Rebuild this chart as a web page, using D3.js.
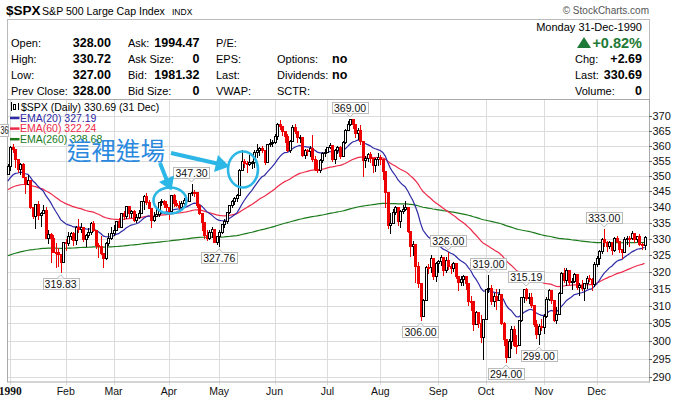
<!DOCTYPE html>
<html>
<head>
<meta charset="utf-8">
<script src="https://cdn.jsdelivr.net/npm/d3@7"></script>
<style>
  body { margin: 0; background: #fff; }
  svg { display: block; font-family: "Liberation Sans", Arial, sans-serif; }
</style>
</head>
<body>
<div id="chart"></div>
<script>
// daily candles, one array per month: [day, open, high, low, close]
const dec89 = [[29, 350.67, 353.90, 350.50, 353.40]];
const jan = [
  [2, 353.40, 359.90, 351.98, 359.69], [3, 359.69, 360.59, 357.89, 358.76], [4, 358.76, 358.76, 352.89, 355.67],
  [5, 355.67, 355.67, 351.35, 352.20], [8, 352.20, 354.24, 350.54, 353.79], [9, 353.79, 354.17, 349.61, 349.62],
  [10, 349.62, 349.62, 344.32, 347.31], [11, 347.31, 350.14, 347.31, 348.53], [12, 348.53, 348.53, 339.49, 339.93],
  [15, 339.93, 339.94, 336.57, 337.00], [16, 337.00, 340.75, 333.37, 340.75], [17, 340.75, 342.01, 336.26, 337.40],
  [18, 337.40, 338.38, 333.98, 338.19], [19, 338.19, 340.48, 338.19, 339.15], [22, 339.15, 339.96, 330.28, 330.38],
  [23, 330.38, 332.76, 328.67, 331.61], [24, 331.61, 331.71, 322.85, 330.26], [25, 330.26, 331.06, 325.80, 326.08],
  [26, 326.08, 328.58, 321.44, 325.80], [29, 325.80, 327.31, 321.79, 325.20], [30, 325.20, 325.20, 319.83, 322.98],
  [31, 322.98, 329.08, 322.98, 329.08]
];
const feb = [
  [1, 329.08, 329.90, 326.60, 328.79], [2, 328.79, 332.10, 328.10, 330.92], [5, 330.92, 332.00, 330.00, 331.85],
  [6, 331.85, 332.20, 328.00, 329.66], [7, 329.66, 334.00, 328.30, 333.75], [8, 333.75, 336.10, 332.00, 332.96],
  [9, 332.96, 335.00, 332.10, 333.62], [12, 333.62, 333.62, 329.30, 330.08], [13, 330.08, 331.60, 327.90, 331.02],
  [14, 331.02, 333.20, 330.40, 332.01], [15, 332.01, 335.20, 331.40, 334.89], [16, 334.89, 335.60, 332.40, 332.72],
  [20, 332.72, 332.72, 327.10, 327.99], [21, 327.99, 328.60, 324.50, 327.67], [22, 327.67, 331.00, 325.30, 325.70],
  [23, 325.70, 325.70, 321.40, 324.15], [26, 324.15, 328.90, 323.90, 328.67], [27, 328.67, 331.90, 328.20, 330.26],
  [28, 330.26, 333.60, 329.90, 331.89]
];
const mar = [
  [1, 331.89, 334.40, 331.10, 332.74], [2, 332.74, 335.54, 332.70, 335.54], [5, 335.54, 336.40, 333.50, 333.74],
  [6, 333.74, 337.93, 333.60, 337.93], [7, 337.93, 338.80, 336.30, 336.95], [8, 336.95, 340.30, 336.50, 340.27],
  [9, 340.27, 340.30, 336.80, 337.93], [12, 337.93, 339.10, 336.80, 338.67], [13, 338.67, 338.90, 335.40, 336.00],
  [14, 336.00, 337.60, 335.20, 336.87], [15, 336.87, 338.90, 336.50, 338.07], [16, 338.07, 342.00, 337.90, 341.91],
  [19, 341.91, 343.80, 339.20, 343.53], [20, 343.53, 344.50, 340.80, 341.57], [21, 341.57, 342.10, 339.50, 339.74],
  [22, 339.74, 339.74, 333.60, 335.69], [23, 335.69, 338.30, 335.60, 337.22], [26, 337.22, 339.20, 337.10, 337.63],
  [27, 337.63, 341.50, 337.00, 341.50], [28, 341.50, 342.60, 340.60, 342.00], [29, 342.00, 342.10, 339.80, 340.79],
  [30, 340.79, 341.80, 339.00, 339.94]
];
const apr = [
  [2, 339.94, 339.94, 336.30, 338.70], [3, 338.70, 343.80, 338.70, 343.64], [4, 343.64, 344.10, 340.40, 341.09],
  [5, 341.09, 342.10, 340.30, 340.73], [6, 340.73, 341.80, 338.90, 340.08], [9, 340.08, 341.90, 339.20, 341.37],
  [10, 341.37, 342.80, 340.60, 342.07], [11, 342.07, 343.00, 341.10, 341.92], [12, 341.92, 344.50, 341.90, 344.34],
  [16, 344.34, 347.30, 343.90, 344.74], [17, 344.74, 345.30, 343.50, 344.68], [18, 344.68, 344.70, 339.90, 340.72],
  [19, 340.72, 340.90, 337.60, 338.09], [20, 338.09, 338.10, 332.70, 335.12], [23, 335.12, 335.12, 330.10, 331.05],
  [24, 331.05, 332.60, 329.50, 330.36], [25, 330.36, 332.60, 329.80, 332.03], [26, 332.03, 333.80, 330.70, 332.92],
  [27, 332.92, 333.00, 328.90, 329.11], [30, 329.11, 331.00, 328.40, 330.80]
];
const may = [
  [1, 330.80, 332.60, 327.76, 332.25], [2, 332.25, 334.60, 331.90, 334.48], [3, 334.48, 336.10, 333.80, 335.57],
  [4, 335.57, 338.50, 334.90, 338.39], [7, 338.39, 340.60, 338.00, 340.53], [8, 340.53, 342.20, 339.90, 342.01],
  [9, 342.01, 343.10, 340.90, 342.86], [10, 342.86, 344.00, 342.00, 343.82], [11, 343.82, 352.30, 343.80, 352.00],
  [14, 352.00, 358.40, 352.00, 354.75], [15, 354.75, 355.60, 352.90, 354.28], [16, 354.28, 355.00, 351.30, 354.00],
  [17, 354.00, 356.90, 353.60, 354.47], [18, 354.47, 355.00, 352.60, 354.64], [21, 354.64, 358.50, 353.00, 358.00],
  [22, 358.00, 360.50, 356.10, 358.43], [23, 358.43, 359.70, 356.90, 359.29], [24, 359.29, 360.00, 357.90, 358.41],
  [25, 358.41, 358.41, 353.80, 354.58], [29, 354.58, 360.70, 354.58, 360.65], [30, 360.65, 362.30, 360.00, 360.86],
  [31, 360.86, 361.80, 359.80, 361.23]
];
const jun = [
  [1, 361.23, 363.80, 360.90, 363.16], [4, 363.16, 367.80, 362.40, 367.40], [5, 367.40, 368.80, 365.80, 366.64],
  [6, 366.64, 366.64, 363.60, 364.96], [7, 364.96, 365.10, 361.40, 363.15], [8, 363.15, 363.80, 358.10, 358.71],
  [11, 358.71, 361.80, 357.90, 361.63], [12, 361.63, 367.00, 361.60, 366.25], [13, 366.25, 367.30, 364.20, 364.90],
  [14, 364.90, 364.90, 361.40, 362.90], [15, 362.90, 363.50, 361.30, 362.91], [18, 362.91, 362.91, 356.40, 356.88],
  [19, 356.88, 358.80, 356.00, 358.47], [20, 358.47, 359.00, 356.90, 358.30], [21, 358.30, 359.80, 356.40, 359.10],
  [22, 359.10, 363.50, 355.00, 355.43], [25, 355.43, 356.60, 351.90, 352.31], [26, 352.31, 355.30, 351.20, 352.06],
  [27, 352.06, 355.60, 351.20, 355.14], [28, 355.14, 357.90, 354.70, 357.63], [29, 357.63, 359.00, 356.70, 358.02]
];
const jul = [
  [2, 358.02, 359.70, 357.80, 359.54], [3, 359.54, 360.90, 359.10, 360.16], [5, 360.16, 360.20, 354.80, 355.68],
  [6, 355.68, 359.00, 354.30, 358.42], [9, 358.42, 360.00, 357.70, 359.52], [10, 359.52, 359.90, 356.00, 356.49],
  [11, 356.49, 361.50, 356.49, 361.23], [12, 361.23, 365.60, 360.90, 365.44], [13, 365.44, 368.40, 365.30, 367.31],
  [16, 367.31, 369.00, 366.90, 368.95], [17, 368.95, 369.00, 366.00, 367.52], [18, 367.52, 367.52, 362.80, 364.22],
  [19, 364.22, 366.00, 362.10, 365.32], [20, 365.32, 367.00, 360.60, 361.61], [23, 361.61, 361.61, 350.00, 355.31],
  [24, 355.31, 356.50, 352.80, 355.79], [25, 355.79, 357.50, 354.80, 357.09], [26, 357.09, 357.90, 354.40, 355.91],
  [27, 355.91, 356.00, 351.40, 353.44], [30, 353.44, 355.80, 351.60, 355.55], [31, 355.55, 357.40, 353.50, 356.15]
];
const aug = [
  [1, 356.15, 357.00, 353.90, 355.52], [2, 355.52, 355.52, 349.00, 351.48], [3, 351.48, 351.50, 339.90, 344.86],
  [6, 344.86, 344.86, 333.30, 334.43], [7, 334.43, 338.00, 331.90, 334.83], [8, 334.83, 339.30, 334.80, 338.35],
  [9, 338.35, 340.40, 337.80, 339.94], [10, 339.94, 339.94, 334.40, 335.52], [13, 335.52, 339.10, 333.50, 338.84],
  [14, 338.84, 340.50, 337.90, 339.39], [15, 339.39, 341.90, 339.10, 340.06], [16, 340.06, 340.10, 332.00, 332.39],
  [17, 332.39, 332.40, 324.60, 327.83], [20, 327.83, 329.20, 325.00, 328.51], [21, 328.51, 328.51, 316.80, 321.86],
  [22, 321.86, 322.80, 315.60, 316.55], [23, 316.55, 316.60, 306.00, 307.06], [24, 307.06, 311.80, 307.06, 311.51],
  [27, 311.51, 321.60, 311.50, 321.44], [28, 321.44, 322.20, 319.50, 321.34], [29, 321.34, 324.90, 320.00, 324.19],
  [30, 324.19, 324.20, 317.80, 318.71], [31, 318.71, 322.90, 317.20, 322.56]
];
const sep = [
  [4, 322.56, 323.60, 319.90, 323.09], [5, 323.09, 325.10, 321.90, 324.39], [6, 324.39, 324.40, 319.00, 320.46],
  [7, 320.46, 324.30, 320.00, 323.40], [10, 323.40, 326.00, 320.80, 321.63], [11, 321.63, 322.20, 319.60, 321.04],
  [12, 321.04, 322.90, 320.20, 322.54], [13, 322.54, 322.54, 318.20, 318.65], [14, 318.65, 318.70, 314.50, 316.83],
  [17, 316.83, 318.60, 316.00, 317.77], [18, 317.77, 318.90, 316.00, 318.60], [19, 318.60, 318.60, 314.80, 316.60],
  [20, 316.60, 316.60, 310.20, 311.48], [21, 311.48, 312.90, 308.80, 311.32], [24, 311.32, 311.32, 303.10, 304.59],
  [25, 304.59, 308.50, 304.59, 308.26], [26, 308.26, 308.30, 303.90, 305.06], [27, 305.06, 307.40, 299.60, 300.97],
  [28, 300.97, 306.20, 295.00, 306.10]
];
const oct = [
  [1, 306.10, 314.94, 306.10, 314.94], [2, 314.94, 319.00, 314.10, 315.21], [3, 315.21, 316.00, 310.50, 311.40],
  [4, 311.40, 313.60, 310.00, 312.69], [5, 312.69, 314.80, 308.90, 311.50], [8, 311.50, 315.00, 311.50, 313.48],
  [9, 313.48, 313.48, 304.70, 305.10], [10, 305.10, 305.40, 298.80, 300.39], [11, 300.39, 300.40, 294.00, 295.46],
  [12, 295.46, 300.50, 295.46, 300.03], [15, 300.03, 304.30, 298.00, 303.23], [16, 303.23, 304.30, 298.40, 298.92],
  [17, 298.92, 301.50, 296.50, 298.76], [18, 298.76, 305.80, 298.76, 305.74], [19, 305.74, 312.60, 305.70, 312.48],
  [22, 312.48, 315.00, 311.00, 314.76], [23, 314.76, 315.19, 311.70, 312.36], [24, 312.36, 313.70, 310.90, 312.60],
  [25, 312.60, 313.80, 309.70, 310.17], [26, 310.17, 310.20, 304.30, 304.71], [29, 304.71, 306.00, 300.90, 301.88],
  [30, 301.88, 304.60, 299.00, 304.06], [31, 304.06, 306.20, 302.90, 304.00]
];
const nov = [
  [1, 304.00, 307.60, 302.30, 307.02], [2, 307.02, 312.40, 306.60, 311.85], [5, 311.85, 315.00, 311.50, 314.59],
  [6, 314.59, 314.60, 310.90, 311.62], [7, 311.62, 311.70, 305.60, 306.01], [8, 306.01, 309.70, 304.90, 307.61],
  [9, 307.61, 314.00, 307.60, 313.74], [12, 313.74, 319.80, 313.70, 319.48], [13, 319.48, 321.00, 316.90, 317.67],
  [14, 317.67, 321.10, 316.00, 320.40], [15, 320.40, 320.50, 316.30, 317.02], [16, 317.02, 318.00, 314.80, 317.12],
  [19, 317.12, 319.60, 316.90, 319.34], [20, 319.34, 319.34, 314.90, 315.31], [21, 315.31, 316.50, 313.00, 316.03],
  [23, 316.03, 317.40, 314.50, 315.10], [26, 315.10, 316.60, 311.60, 316.51], [27, 316.51, 318.60, 315.30, 318.10],
  [28, 318.10, 319.00, 317.10, 317.95], [29, 317.95, 318.00, 314.50, 316.42], [30, 316.42, 323.00, 315.70, 322.22]
];
const dec = [
  [3, 322.22, 324.70, 321.80, 324.10], [4, 324.10, 326.60, 322.30, 326.35], [5, 326.35, 330.30, 325.50, 329.92],
  [6, 329.92, 333.00, 327.90, 329.07], [7, 329.07, 329.40, 326.30, 327.75], [10, 327.75, 329.40, 327.20, 328.89],
  [11, 328.89, 328.90, 325.40, 326.44], [12, 326.44, 330.40, 326.40, 330.19], [13, 330.19, 330.80, 328.90, 329.34],
  [14, 329.34, 329.34, 325.90, 326.82], [17, 326.82, 326.82, 324.20, 326.02], [18, 326.02, 330.40, 325.90, 330.05],
  [19, 330.05, 330.80, 328.40, 330.20], [20, 330.20, 330.90, 327.90, 330.12], [21, 330.12, 332.50, 330.00, 331.75],
  [24, 331.75, 331.75, 328.90, 329.90], [26, 329.90, 331.00, 329.20, 330.85], [27, 330.85, 331.60, 328.00, 328.29],
  [28, 328.29, 328.70, 327.00, 328.00], [31, 328.00, 330.72, 327.00, 330.69]
];

const months = [dec89, jan, feb, mar, apr, may, jun, jul, aug, sep, oct, nov, dec];
const monthNames = ["Dec", "1990", "Feb", "Mar", "Apr", "May", "Jun", "Jul", "Aug", "Sep", "Oct", "Nov", "Dec"];
const monthKeys = ["Dec89", "Jan", "Feb", "Mar", "Apr", "May", "Jun", "Jul", "Aug", "Sep", "Oct", "Nov", "Dec"];

// EMA values at the first bar
const emaPeriods = [20, 60, 260];
const emaSeeds = [348.3, 345.5, 324.8];
const emaLegend = ["EMA(20) 327.19", "EMA(60) 322.24", "EMA(260) 328.68"];
const emaColors = ["#2f2aa5", "#ee2a4a", "#1c7a1c"];

// labelled swing highs / lows: [month, day, value, side]
const swings = [
  ["Jan", 30, 319.83, "low"], ["Apr", 16, 347.30, "high"], ["May", 1, 327.76, "low"],
  ["Jul", 16, 369.00, "high"], ["Aug", 23, 306.00, "low"], ["Sep", 10, 326.00, "high"],
  ["Oct", 2, 319.00, "high"], ["Oct", 11, 294.00, "low"], ["Oct", 23, 315.19, "high"],
  ["Oct", 30, 299.00, "low"], ["Dec", 6, 333.00, "high"]
];

const yTicks = [290, 295, 300, 305, 310, 315, 320, 325, 330, 335, 340, 345, 350, 355, 360, 365, 370];

// flatten
let bars = [];
months.forEach(function (m, mi) {
  m.forEach(function (r, j) {
    bars.push({ key: monthKeys[mi], day: r[0], o: r[1], h: r[2], l: r[3], c: r[4], first: j === 0, mi: mi });
  });
});
bars.forEach(function (b, i) { b.i = i; b.prev = i > 0 ? bars[i - 1].c : b.o; });

const W = 677, H = 398;
const plot = { left: 7, right: 649, top: 100, bottom: 382 };

const x = d3.scaleLinear().domain([1, bars.length - 1]).range([10.33, 644.5]);
const y = d3.scaleLog().domain([290, 370]).range([377, 116.4]);

const svg = d3.select('#chart').append('svg')
  .attr('width', W).attr('height', H)
  .attr('viewBox', `0 0 ${W} ${H}`);

// ---------- header ----------
const hdr = svg.append('g').attr('fill', '#000');
hdr.append('text').attr('x', 6).attr('y', 15).style('font-size', '13.5px').style('font-weight', 'bold').text('$SPX');
hdr.append('text').attr('x', 42).attr('y', 15).style('font-size', '10.6px').text('S&P 500 Large Cap Index');
hdr.append('text').attr('x', 172).attr('y', 15).style('font-size', '8.5px').text('INDX');
hdr.append('text').attr('x', 649).attr('y', 14).attr('text-anchor', 'end')
  .style('font-size', '10px').attr('fill', '#555').text('\u00a9 StockCharts.com');

svg.append('rect').attr('x', 7.5).attr('y', 19.5).attr('width', 642).attr('height', 80)
  .attr('fill', 'none').attr('stroke', '#bbb');

const rowsY = [47, 63, 79, 95];
const col1 = ["Open:", "High:", "Low:", "Prev Close:"], val1 = ["328.00", "330.72", "327.00", "328.00"];
const col2 = ["Ask:", "Ask Size:", "Bid:", "Bid Size:"], val2 = ["1994.47", "0", "1981.32", "0"];
const col3 = ["P/E:", "EPS:", "Last:", "VWAP:"];
const col4 = ["", "Options:", "Dividends:", "SCTR:"], val4 = ["", "no", "no", ""];
rowsY.forEach(function (yy, k) {
  hdr.append('text').attr('x', 11).attr('y', yy).style('font-size', '11px').text(col1[k]);
  hdr.append('text').attr('x', 111).attr('y', yy).attr('text-anchor', 'end').style('font-size', '12.5px').style('font-weight', 'bold').text(val1[k]);
  hdr.append('text').attr('x', 128).attr('y', yy).style('font-size', '11px').text(col2[k]);
  hdr.append('text').attr('x', 199.5).attr('y', yy).attr('text-anchor', 'end').style('font-size', '12.5px').style('font-weight', 'bold').text(val2[k]);
  hdr.append('text').attr('x', 216).attr('y', yy).style('font-size', '11px').text(col3[k]);
  hdr.append('text').attr('x', 277).attr('y', yy).style('font-size', '11px').text(col4[k]);
  hdr.append('text').attr('x', 332).attr('y', yy).style('font-size', '12.5px').style('font-weight', 'bold').text(val4[k]);
});
hdr.append('text').attr('x', 642).attr('y', 31).attr('text-anchor', 'end').style('font-size', '11px').text('Monday  31-Dec-1990');
hdr.append('text').attr('x', 642).attr('y', 48).attr('text-anchor', 'end').attr('fill', '#1e7a36')
  .style('font-size', '14.5px').style('font-weight', 'bold').text('+0.82%');
hdr.append('path').attr('d', 'M577,48 L584,37 L591,48 Z').attr('fill', '#1e7a36');
const rLab = ["Chg:", "Last:", "Volume:"], rVal = ["+2.69", "330.69", "0"];
rLab.forEach(function (t, k) {
  hdr.append('text').attr('x', 575).attr('y', rowsY[k + 1]).style('font-size', '11px').text(t);
  hdr.append('text').attr('x', 642).attr('y', rowsY[k + 1]).attr('text-anchor', 'end')
    .style('font-size', '12.5px').style('font-weight', 'bold').text(rVal[k]);
});

// ---------- plot frame and grid ----------
svg.append('clipPath').attr('id', 'clip').append('rect')
  .attr('x', plot.left).attr('y', plot.top).attr('width', plot.right - plot.left).attr('height', plot.bottom - plot.top);

const grid = svg.append('g');
grid.selectAll('.hg').data(yTicks).enter().append('line')
  .attr('x1', plot.left).attr('x2', plot.right)
  .attr('y1', d => Math.round(y(d)) + 0.5).attr('y2', d => Math.round(y(d)) + 0.5)
  .attr('stroke', '#dcdcdc');

const monthStarts = bars.filter(b => b.first && b.mi > 0);
grid.selectAll('.vg').data(monthStarts).enter().append('line')
  .attr('x1', d => Math.round(x(d.i)) + 0.5).attr('x2', d => Math.round(x(d.i)) + 0.5)
  .attr('y1', plot.top).attr('y2', plot.bottom + 3)
  .attr('stroke', '#dcdcdc');

svg.append('rect').attr('x', plot.left + 0.5).attr('y', plot.top - 0.5)
  .attr('width', plot.right - plot.left).attr('height', plot.bottom - plot.top + 0.5)
  .attr('fill', 'none').attr('stroke', '#aaa');

// x labels
svg.selectAll('.mlab').data(monthStarts).enter().append('text')
  .attr('x', d => x(d.i)).attr('y', 395).attr('text-anchor', 'middle')
  .style('font-size', d => d.mi === 1 ? '11.5px' : '10.5px')
  .style('font-weight', d => d.mi === 1 ? 'bold' : 'normal')
  .style('font-family', d => d.mi === 1 ? '"Liberation Serif", "Times New Roman", serif' : null)
  .attr('fill', '#111')
  .text(d => monthNames[d.mi]);

// y axis on the right
const ya = svg.append('g');
ya.selectAll('.yt').data(yTicks).enter().append('line')
  .attr('x1', plot.right).attr('x2', plot.right + 3)
  .attr('y1', d => Math.round(y(d)) + 0.5).attr('y2', d => Math.round(y(d)) + 0.5)
  .attr('stroke', '#666');
ya.selectAll('.yl').data(yTicks).enter().append('text')
  .attr('x', plot.right + 3.5).attr('y', d => y(d) + 4)
  .style('font-size', '11px').attr('fill', '#111').text(d => d);

// ---------- EMA lines ----------
const closes = bars.map(b => b.c);
function ema(vals, n, seed) {
  const k = 2 / (n + 1);
  let out = [seed];
  for (let i = 1; i < vals.length; i++) out.push(out[i - 1] + k * (vals[i] - out[i - 1]));
  return out;
}
const body = svg.append('g').attr('clip-path', 'url(#clip)');
const line = d3.line().x((d, i) => x(i)).y(d => y(d));
emaPeriods.slice().reverse().forEach(function (p, r) {
  const k = emaPeriods.length - 1 - r;
  body.append('path').datum(ema(closes, p, emaSeeds[k]))
    .attr('d', line).attr('fill', 'none').attr('stroke', emaColors[k]).attr('stroke-width', 1.2);
});

// ---------- candles ----------
const cg = body.append('g');
bars.forEach(function (b) {
  const cx = Math.round(x(b.i));
  const col = b.c >= b.prev ? '#000' : '#ee0000';
  cg.append('line').attr('x1', cx + 0.5).attr('x2', cx + 0.5)
    .attr('y1', Math.round(y(b.h))).attr('y2', Math.round(y(b.l)) + 1)
    .attr('stroke', col);
  const yt = Math.round(y(Math.max(b.o, b.c))), yb = Math.round(y(Math.min(b.o, b.c)));
  cg.append('rect').attr('x', cx - 0.5).attr('y', yt + 0.5)
    .attr('width', 2).attr('height', Math.max(yb - yt, 1))
    .attr('fill', b.c > b.o ? '#fff' : col).attr('stroke', col);
});

// ---------- swing labels ----------
const lg = svg.append('g');
swings.forEach(function (s) {
  const b = bars.find(d => d.key === s[0] && d.day === s[1]);
  const cx = x(b.i), py = y(s[2]);
  const t = lg.append('text').attr('text-anchor', 'middle').style('font-size', '10.5px').attr('fill', '#111').text(s[2].toFixed(2));
  const w = t.node().getComputedTextLength() + 4;
  const top = s[3] === 'high' ? py - 17 : py + 6;
  lg.insert('rect', 'text').attr('x', Math.round(cx - w / 2) + 0.5).attr('y', Math.round(top) + 0.5)
    .attr('width', Math.round(w)).attr('height', 11).attr('fill', '#fff').attr('stroke', '#bbb');
  t.attr('x', cx).attr('y', Math.round(top) + 10);
  const ty = s[3] === 'high' ? Math.round(top) + 11.5 : Math.round(top) + 0.5;
  const dy = s[3] === 'high' ? 3.5 : -3.5;
  lg.append('path').attr('d', `M${cx - 3.5},${ty} L${cx},${ty + dy} L${cx + 3.5},${ty}`)
    .attr('fill', '#fff').attr('stroke', '#bbb');
});

// small label box at the left edge
svg.append('rect').attr('x', -1.5).attr('y', 124.5).attr('width', 10).attr('height', 12)
  .attr('fill', '#fff').attr('stroke', '#bbb');
svg.append('text').attr('x', 0.5).attr('y', 134).attr('textLength', 8).attr('lengthAdjust', 'spacingAndGlyphs')
  .style('font-size', '10px').attr('fill', '#111').text('36');

// ---------- chart legend ----------
const leg = svg.append('g');
leg.append('line').attr('x1', 11.5).attr('x2', 11.5).attr('y1', 102).attr('y2', 111).attr('stroke', '#000');
leg.append('rect').attr('x', 13.5).attr('y', 104.5).attr('width', 2).attr('height', 5).attr('fill', '#fff').attr('stroke', '#000');
leg.append('line').attr('x1', 18.5).attr('x2', 18.5).attr('y1', 103).attr('y2', 110).attr('stroke', '#000');
leg.append('text').attr('x', 21).attr('y', 111).style('font-size', '10.5px').attr('fill', '#000')
  .text('$SPX (Daily) 330.69 (31 Dec)');
emaLegend.forEach(function (t, k) {
  const yy = 118 + k * 10.6;
  leg.append('line').attr('x1', 10).attr('x2', 19.5).attr('y1', yy).attr('y2', yy)
    .attr('stroke', emaColors[k]).attr('stroke-width', 2.5);
  leg.append('text').attr('x', 20).attr('y', yy + 3.8).style('font-size', '10.5px')
    .attr('fill', emaColors[k]).text(t);
});

// ---------- hand-drawn annotation ----------
const ann = svg.append('g');
const cyan = '#2cb7e6';
ann.append('ellipse').attr('cx', 170).attr('cy', 200.5).attr('rx', 16.5).attr('ry', 13)
  .attr('fill', 'none').attr('stroke', cyan).attr('stroke-width', 2.6);
ann.append('ellipse').attr('cx', 243).attr('cy', 169.5).attr('rx', 15).attr('ry', 18)
  .attr('fill', 'none').attr('stroke', cyan).attr('stroke-width', 2.6);
ann.append('line').attr('x1', 160).attr('y1', 163).attr('x2', 166.5).attr('y2', 179.5)
  .attr('stroke', cyan).attr('stroke-width', 4);
ann.append('path').attr('d', 'M159,182 L171.5,190.5 L174,175.5 Z').attr('fill', cyan);
ann.append('line').attr('x1', 171).attr('y1', 153).attr('x2', 217).attr('y2', 163.5)
  .attr('stroke', cyan).attr('stroke-width', 4);
ann.append('path').attr('d', 'M214,172 L229.5,166.5 L218,155 Z').attr('fill', cyan);
ann.append('text').attr('x', 67).attr('y', 160)
  .style('font-family', '"Noto Sans CJK TC", "Noto Sans CJK SC", sans-serif')
  .style('font-size', '24.5px').attr('fill', '#2a88de').text('這裡進場');
</script>
</body>
</html>
